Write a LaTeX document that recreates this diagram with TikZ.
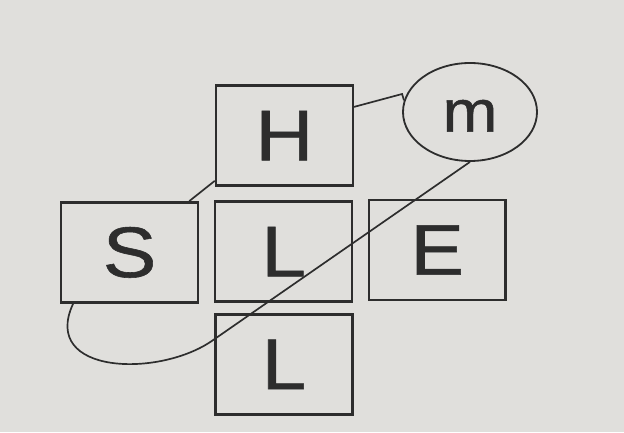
\documentclass[tikz,border=0pt]{standalone}
\usepackage{fontspec}
\setmainfont{Liberation Sans}
\newfontfamily\boxfont[FakeStretch=1.12, FakeBold=0.8]{Liberation Sans}
\usetikzlibrary{
  calc,          % coordinate math
  shapes.geometric % ellipse node
}
\definecolor{paper}{RGB}{224,223,220}
\definecolor{ink}{RGB}{45,45,45}

\tikzset{
  letterbox/.style={draw=ink, line width=1.8pt, minimum width=3.42cm, minimum height=2.5cm,
    inner sep=0pt, font=\boxfont\fontsize{51}{51}\selectfont, text=ink},
  tie/.style={draw=ink, line width=1.2pt}
}

\begin{document}
\begin{tikzpicture}
            \fill[paper] (0,0) rectangle (15.6,10.8);
            \useasboundingbox (0,0) rectangle (15.6,10.8);
            \node[letterbox] (H) at (7.11,7.41) {H};
            \node[letterbox] (S) at (3.24,4.49) {S};
            \node[letterbox] (L) at (7.09,4.51) {L};
            \node[letterbox] (E) at (10.93,4.55) {E};
            \node[letterbox] (Lb) at (7.10,1.69) {L};
            \node[ellipse, draw=ink, line width=1.3pt, minimum width=3.35cm, minimum height=2.45cm,
                  inner sep=0pt, font=\boxfont\fontsize{42}{42}\selectfont, text=ink] (m) at (11.75,8.0) {\raisebox{-14pt}[0pt][0pt]{m}};
            % links
            \draw[tie] ($(H.north east)!0.22!(H.south east)$) -- (m.west |- 0,8.45) -- (m.170);
            \draw[tie] ($(H.south west)+(0,0.15)$) -- ($(S.north east)+(-0.25,0)$);
            \draw[tie] (m.south) -- (5.33,2.3)
                  .. controls (4.0,1.35) and (1.0,1.43) .. ($(S.south west)+(0.33,0)$);
        \end{tikzpicture}
\end{document}
